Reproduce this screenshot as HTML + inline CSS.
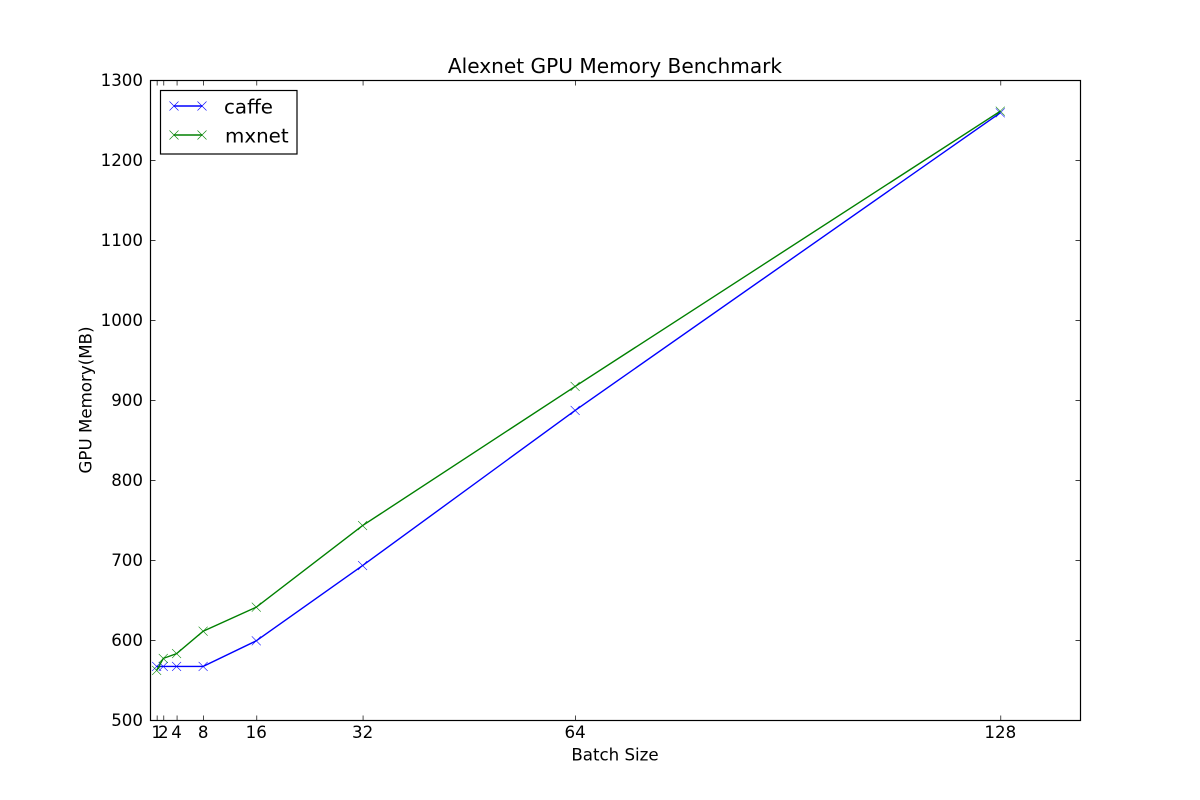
<!DOCTYPE html>
<html>
<head>
<meta charset="utf-8">
<title>Alexnet GPU Memory Benchmark</title>
<style>
html,body{margin:0;padding:0;background:#fff;}
svg{display:block;}
text{font-family:"DejaVu Sans",sans-serif;fill:#000;}
</style>
</head>
<body>
<svg id="chart" xmlns="http://www.w3.org/2000/svg" width="1200" height="800" viewBox="0 0 1200 800">
<rect x="0" y="0" width="1200" height="800" fill="#fff"/>
<text x="615" y="73" font-size="20.12" text-anchor="middle">Alexnet GPU Memory Benchmark</text>
<text x="615" y="760.5" font-size="16.67" text-anchor="middle">Batch Size</text>
<text x="0" y="0" font-size="16.67" text-anchor="middle" transform="translate(91.5 400) rotate(-90)">GPU Memory(MB)</text>
<g id="marks"></g>
<rect x="150.5" y="80.5" width="930" height="640" fill="none" stroke="#000" stroke-width="1.2"/>
<g id="ticks"></g>
<g>
<rect x="160.5" y="90.5" width="136.5" height="63.5" fill="#fff" stroke="#000" stroke-width="1.2"/>
<g id="legend-entries"></g>
</g>
</svg>
<script>
const batchSizes = [1, 2, 4, 8, 16, 32, 64, 128];
const caffeValues = [567, 567, 567, 567, 599, 693, 887, 1259];
const mxnetValues = [562, 577, 583, 611, 641, 743, 917, 1261];
const xTickLabels = [1, 2, 4, 8, 16, 32, 64, 128];
const yTickLabels = [500, 600, 700, 800, 900, 1000, 1100, 1200, 1300];
const seriesNames = ['caffe', 'mxnet'];
const seriesColors = ['#0000ff', '#008000'];

const NS = 'http://www.w3.org/2000/svg';
const xMin = 0, xMax = 140, yMin = 500, yMax = 1300;
const left = 150, right = 1080, top_ = 80, bottom = 720;
function xScale(v) { return left + (v - xMin) / (xMax - xMin) * (right - left); }
function yScale(v) { return bottom - (v - yMin) / (yMax - yMin) * (bottom - top_); }
function make(tag, attrs, parent) {
  const el = document.createElementNS(NS, tag);
  for (const k in attrs) el.setAttribute(k, attrs[k]);
  parent.appendChild(el);
  return el;
}
function drawCross(parent, cx, cy, color) {
  const r = 4.5;
  const d = 'M' + (cx - r) + ' ' + (cy - r) + 'L' + (cx + r) + ' ' + (cy + r) + 'M' + (cx - r) + ' ' + (cy + r) + 'L' + (cx + r) + ' ' + (cy - r);
  const el = make('path', { d: d, stroke: color, 'stroke-width': 0.6, fill: 'none' }, parent);
  return el;
}

const marks = document.getElementById('marks');
[caffeValues, mxnetValues].forEach(function (values, s) {
  const pts = values.map(function (v, i) { return xScale(batchSizes[i]) + ',' + yScale(v); }).join(' ');
  const line = make('polyline', { points: pts, fill: 'none', stroke: seriesColors[s], 'stroke-width': 1.4 }, marks);
  
  
  values.forEach(function (v, i) {
    const m = drawCross(marks, xScale(batchSizes[i]), yScale(v), seriesColors[s]);
    
    
  });
});

const ticks = document.getElementById('ticks');
xTickLabels.forEach(function (t) {
  const x = xScale(t);
  const g = make('g', {}, ticks);
  
  
  make('path', { d: 'M' + (x + 0.5) + ' 720.5v-5M' + (x + 0.5) + ' 80.5v5', stroke: '#000', 'stroke-width': 0.7, fill: 'none' }, g);
  const lbl = make('text', { x: x, y: 738, 'font-size': 16.67, 'text-anchor': 'middle' }, g);
  lbl.textContent = t;
});
yTickLabels.forEach(function (t) {
  const y = yScale(t);
  const g = make('g', {}, ticks);
  
  
  make('path', { d: 'M150.5 ' + (y + 0.5) + 'h5M1080.5 ' + (y + 0.5) + 'h-5', stroke: '#000', 'stroke-width': 0.7, fill: 'none' }, g);
  const lbl = make('text', { x: 143, y: y + 6, 'font-size': 16.67, 'text-anchor': 'end' }, g);
  lbl.textContent = t;
});

const legendEntries = document.getElementById('legend-entries');
seriesNames.forEach(function (name, s) {
  const y = 106 + s * 29;
  const g = make('g', {}, legendEntries);
  
  
  make('line', { x1: 174, x2: 202, y1: y, y2: y, stroke: seriesColors[s], 'stroke-width': 1.4 }, g);
  drawCross(g, 174, y, seriesColors[s]);
  drawCross(g, 202, y, seriesColors[s]);
  const lbl = make('text', { x: s === 0 ? 224 : 225, y: y + 7.5, 'font-size': 19.85 }, g);
  lbl.textContent = name;
});
</script>
</body>
</html>
